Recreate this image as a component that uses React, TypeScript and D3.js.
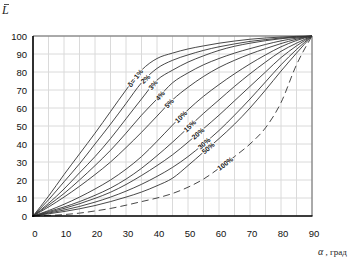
import React from "react";
import * as d3 from "d3";

const alphas = [0, 5, 10, 15, 20, 25, 30, 35, 40, 45, 50, 55, 60, 65, 70, 75, 80, 85, 90];
const xTicks = [0, 10, 20, 30, 40, 50, 60, 70, 80, 90];
const yTicks = [0, 10, 20, 30, 40, 50, 60, 70, 80, 90, 100];

const d1 = [0, 11, 23, 34.5, 46, 58, 70, 81, 87.5, 90.5, 92.8, 94.5, 96, 97.2, 98.2, 98.9, 99.4, 99.8, 100];
const d2 = [0, 9, 19, 29, 40, 51, 62.5, 74, 82, 86.5, 89.5, 92, 94, 95.6, 97, 98, 98.9, 99.5, 100];
const d3v = [0, 7, 15, 24, 33, 43, 54, 65, 75.5, 81, 85.5, 89, 92, 94.3, 96, 97.4, 98.5, 99.3, 100];
const d4 = [0, 6, 12.5, 20, 28, 36.5, 46, 56, 65, 74, 79.5, 84, 87.5, 90.5, 93, 95.3, 97.3, 98.8, 100];
const d5 = [0, 5, 10.5, 16.5, 23, 30, 38, 46.5, 55.5, 64.5, 71.5, 77.5, 82.5, 86.5, 90, 93, 95.8, 98.2, 100];
const d10 = [0, 3, 6.5, 10.5, 15, 20, 26, 33, 41.5, 50.5, 59, 66.5, 73, 79, 84.5, 89.5, 94, 97.5, 100];
const d15 = [0, 2.5, 5, 8, 11.5, 15.5, 20.5, 26.5, 33.5, 41, 49, 57, 64.5, 72, 79, 85.5, 91.5, 96, 100];
const d20 = [0, 2, 4.2, 6.8, 9.8, 13.2, 17.5, 22.5, 28, 34, 41, 48.5, 56, 64, 72, 80, 88, 94.5, 100];
const d30 = [0, 1.6, 3.3, 5.3, 7.7, 10.5, 13.8, 17.6, 22, 27, 33, 40, 47.5, 56, 65, 74.5, 84, 92.5, 100];
const d50 = [0, 1.2, 2.5, 4, 5.8, 8, 10.5, 13.3, 16.8, 21, 28, 35.5, 43, 51, 60, 70, 80.5, 90.5, 100];
const d100 = [0, 0.3, 0.8, 1.6, 2.8, 4.2, 6, 8, 10, 12.5, 16, 20.5, 26.5, 33, 40, 49, 63, 84, 100];

const series = [d1, d2, d3v, d4, d5, d10, d15, d20, d30, d50, d100];
const seriesNames = ["δ= 1%", "2%", "3%", "4%", "5%", "10%", "15%", "20%", "30%", "50%", "100%"];
const labelAlpha = [33, 36.3, 38.7, 41, 43.9, 47.7, 50.6, 53.2, 55.2, 56.5, 62];

export default function App() {
  const W = 350, H = 258;
  const x = d3.scaleLinear().domain([0, 90]).range([33, 312]);
  const y = d3.scaleLinear().domain([0, 100]).range([216, 36]);
  const line = d3
    .line<number>()
    .x((_, i) => x(alphas[i]))
    .y((v) => y(v))
    .curve(d3.curveMonotoneX);
  const interp = (vals: number[], a: number) => {
    const i = Math.min(alphas.length - 2, Math.floor(a / 5));
    const t = (a - alphas[i]) / 5;
    return vals[i] + (vals[i + 1] - vals[i]) * t;
  };
  const gridX = d3.range(0, 91, 5);
  const gridY = d3.range(0, 101, 10);
  const font = "'Liberation Sans', Arial, sans-serif";
  return (
    <svg width={W} height={H} style={{ position: "absolute", left: 0, top: 0, background: "#fff" }}>
      <rect x={0} y={0} width={W} height={H} fill="#fff" />
      {gridX.map((g) => (
        <line key={"gx" + g} x1={x(g)} x2={x(g)} y1={y(0)} y2={y(100)} stroke="#dadada" strokeWidth={1} />
      ))}
      {gridY.map((g) => (
        <line key={"gy" + g} x1={x(0)} x2={x(90)} y1={y(g)} y2={y(g)} stroke="#dadada" strokeWidth={1} />
      ))}
      <line x1={x(0)} x2={x(90)} y1={y(100)} y2={y(100)} stroke="#666" strokeWidth={1} />
      <line x1={x(90)} x2={x(90)} y1={y(0)} y2={y(100)} stroke="#666" strokeWidth={1} />
      {series.map((s, k) => (
        <path
          key={"s" + k}
          d={line(s) || ""}
          fill="none"
          stroke="#333"
          strokeWidth={0.9}
          strokeDasharray={k === series.length - 1 ? "7 4" : undefined}
        />
      ))}
      {series.map((s, k) => {
        const a = labelAlpha[k];
        const px = x(a), py = y(interp(s, a));
        const dx = x(a + 1) - x(a - 1);
        const dy = y(interp(s, a + 1)) - y(interp(s, a - 1));
        const ang = (Math.atan2(dy, dx) * 180) / Math.PI;
        return (
          <text
            key={"l" + k}
            x={px}
            y={py}
            transform={`rotate(${ang},${px},${py})`}
            textAnchor="middle"
            dominantBaseline="central"
            fontFamily={font}
            fontSize={7}
            fontWeight="bold"
            fill="#222"
            stroke="#fff"
            strokeWidth={2.2}
            paintOrder="stroke"
          >
            {seriesNames[k]}
          </text>
        );
      })}
      <line x1={x(0)} x2={x(0)} y1={y(0) + 1} y2={y(100)} stroke="#000" strokeWidth={1.6} />
      <line x1={x(0) - 1} x2={x(90) + 0.5} y1={y(0)} y2={y(0)} stroke="#000" strokeWidth={1.6} />
      {yTicks.map((t) => (
        <text key={"yt" + t} x={27} y={y(t)} textAnchor="end" dominantBaseline="central" fontFamily={font} fontSize={9.5} fill="#111">
          {t}
        </text>
      ))}
      {xTicks.map((t) => (
        <text key={"xt" + t} x={x(t) + 2} y={233} textAnchor="middle" dominantBaseline="central" fontFamily={font} fontSize={9.5} fill="#111">
          {t}
        </text>
      ))}
      <text x={2} y={14} fontFamily="'Liberation Serif', serif" fontStyle="italic" fontSize={12} fill="#222">
        L
      </text>
      <line x1={4} x2={9} y1={4.5} y2={4.5} stroke="#222" strokeWidth={0.8} />
      <text x={318} y={255} fontFamily="'Liberation Serif', serif" fontSize={9} fill="#222">
        <tspan fontStyle="italic" fontSize={10}>α</tspan>
        <tspan> , град</tspan>
      </text>
    </svg>
  );
}
